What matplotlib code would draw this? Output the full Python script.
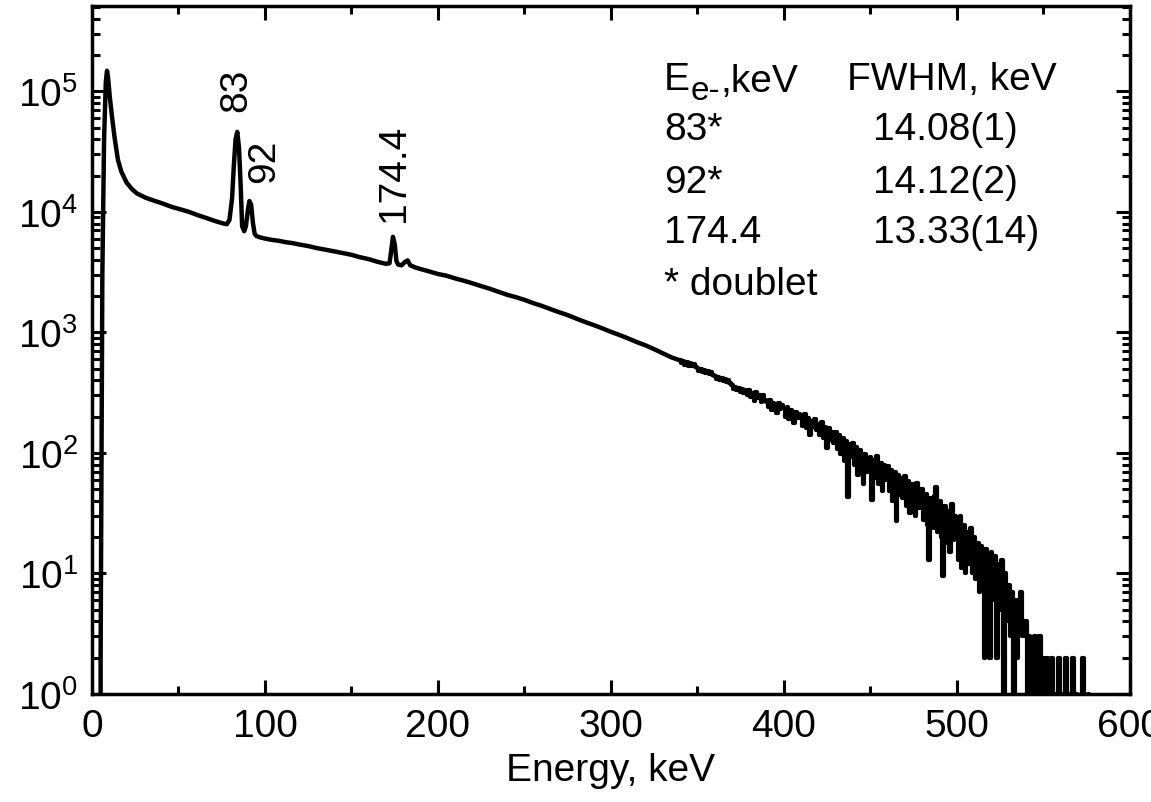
import numpy as np
import matplotlib
matplotlib.use('Agg')
import matplotlib.pyplot as plt
from matplotlib.ticker import AutoMinorLocator, LogLocator, NullFormatter

plt.rcParams['font.family'] = ['Liberation Sans', 'DejaVu Sans']

# smooth part of the spectrum (keV, counts)
e_main = [0, 4, 5, 6, 7, 8, 8.7, 9.3, 10.3, 11.5, 13, 15, 17, 20, 23, 26, 31, 35,
          41, 46, 52, 56, 61, 66, 71, 74, 76, 78, 79.5, 81, 82, 83, 84, 85, 86,
          86.8, 88, 89, 90, 91, 92, 93, 94, 95, 97, 100, 104, 108, 112, 116,
          120, 125, 130, 135, 140, 145, 150, 155, 160, 165, 170, 172, 173, 174,
          175, 176, 177, 179, 181, 182.5, 184, 187, 190, 195, 200, 205, 210,
          215, 220, 225, 230, 235, 240, 245, 250, 255, 260, 265, 270, 275, 280,
          285, 290, 295, 300, 305, 310, 315, 320, 325, 330, 335]
c_main = [0, 0, 2, 3000, 40000, 120000, 148000, 130000, 90000, 63000, 42000,
          27000, 21500, 17500, 15500, 14200, 13100, 12500, 11700, 11000, 10400,
          10000, 9400, 8900, 8400, 8150, 8000, 7900, 8600, 13000, 24000, 40000,
          46000, 34000, 16000, 7600, 6900, 7600, 10000, 12300, 11500, 8200,
          6600, 6300, 6150, 6000, 5850, 5750, 5600, 5500, 5350, 5200, 5000,
          4850, 4700, 4550, 4400, 4200, 4050, 3850, 3700, 3750, 4800, 6200,
          5400, 3900, 3650, 3600, 3850, 3950, 3600, 3450, 3350, 3200, 3050,
          2950, 2800, 2680, 2550, 2420, 2300, 2170, 2050, 1960, 1860, 1750,
          1660, 1560, 1470, 1390, 1300, 1220, 1150, 1080, 1010, 950, 890, 830,
          780, 725, 670, 620]

# noisy tail, 1 keV bins from 340 keV
tail_start = 340
c_tail = [585, 555, 575, 540, 565, 530, 555, 525, 545, 520,
          505, 480, 500, 468, 490, 460, 478, 450, 470, 445,
          435, 410, 428, 400, 420, 392, 412, 385, 405, 378,
          365, 340, 355, 330, 348, 322, 340, 315, 330, 305,
          330, 290, 315, 270, 320, 285, 300, 262, 305, 275,
          265, 240, 275, 228, 260, 245, 215, 258, 230, 250,
          235, 200, 240, 190, 225, 205, 178, 220, 195, 210,
          200, 168, 210, 160, 195, 140, 185, 165, 190, 155,
          175, 140, 180, 132, 165, 110, 160, 128, 150, 120,
          150, 108, 140, 98, 132, 85, 125, 43, 118, 92,
          120, 80, 112, 65, 105, 78, 55, 98, 70, 90,
          92, 41, 88, 62, 95, 55, 82, 48, 80, 60,
          78, 48, 72, 40, 70, 27, 66, 45, 62, 42,
          64, 36, 58, 32, 55, 40, 30, 56, 35, 50,
          50, 28, 46, 25, 13, 42, 24, 44, 52, 22,
          40, 20, 9.5, 36, 18, 33, 15, 38, 19, 30,
          28, 13, 30, 11, 25, 10, 22, 12, 24, 10,
          20, 9, 18, 7, 17, 8, 2, 16, 9, 2,
          15, 6, 14, 2, 12, 5, 13, 1, 10, 4,
          8, 3, 7, 1, 6, 2, 5, 7, 3, 4,
          4, 1, 3, 2, 0, 3, 1, 2, 3, 0,
          2, 1, 2, 0, 1, 2, 0, 1, 0, 2,
          0, 1, 0, 2, 0, 1, 0, 2, 0, 1,
          0, 0, 1, 2, 0, 0, 1, 0, 0, 0]

peak_labels = ['83', '92', '174.4']
peak_label_x = [83.2, 99.4, 174.6]
peak_label_y = [6.8e4, 1.76e4, 8.4e3]

table_col1 = ['83*', '92*', '174.4', '* doublet']
table_col2 = ['FWHM, keV', '14.08(1)', '14.12(2)', '13.33(14)']

e_tail = tail_start + np.arange(len(c_tail))

fig = plt.figure(figsize=(11.51, 8.03), dpi=100)
ax = fig.add_axes([0.0799, 0.1345, 0.9018, 0.8568])

# smooth part as a line, joined on to the first tail bin
ax.plot(e_main + [e_tail[0]], c_main + [c_tail[0]], color='black', lw=3.2,
        solid_joinstyle='round')
ax.plot(e_tail, c_tail, color='black', lw=3.0, drawstyle='steps-mid')
ax.set_yscale('log', nonpositive='clip')
ax.set_xlim(0, 600)
ax.set_ylim(1, 5.1e5)

fs = 28
for lab, x, y in zip(peak_labels, peak_label_x, peak_label_y):
    ax.text(x, y, lab, rotation=90, ha='center', va='bottom', fontsize=fs)

# table header with a large subscript
ybase = [0.879, 0.807, 0.730, 0.657, 0.581]
tE = ax.text(0.551, ybase[0], 'E', transform=ax.transAxes, fontsize=fs, va='baseline')
tsub = ax.annotate('e-', xy=(1, 0), xycoords=tE, xytext=(0.5, -6),
                   textcoords='offset points', fontsize=24, va='bottom')
ax.annotate(',keV', xy=(1, 0), xycoords=tsub, xytext=(0, 5),
            textcoords='offset points', fontsize=fs, va='bottom')
for i, t in enumerate(table_col1):
    ax.text(0.551, ybase[i + 1], t, transform=ax.transAxes, fontsize=fs, va='baseline')
ax.text(0.727, ybase[0], table_col2[0], transform=ax.transAxes, fontsize=fs, va='baseline')
for i, t in enumerate(table_col2[1:]):
    ax.text(0.752, ybase[i + 1], t, transform=ax.transAxes, fontsize=fs, va='baseline')

ax.set_xlabel('Energy, keV', fontsize=fs, labelpad=6)
ax.set_xticks([0, 100, 200, 300, 400, 500, 600])
ax.xaxis.set_minor_locator(AutoMinorLocator(2))
ax.yaxis.set_major_locator(LogLocator(base=10, numticks=10))
ax.yaxis.set_minor_locator(LogLocator(base=10, subs=np.arange(2, 10), numticks=20))
ax.yaxis.set_minor_formatter(NullFormatter())

for s in ax.spines.values():
    s.set_linewidth(2.5)
ax.tick_params(which='both', direction='in', top=True, right=True, width=2.2, labelsize=fs)
ax.tick_params(which='major', length=10, pad=10)
ax.tick_params(which='minor', length=6)

fig.savefig('out.png', dpi=100)
